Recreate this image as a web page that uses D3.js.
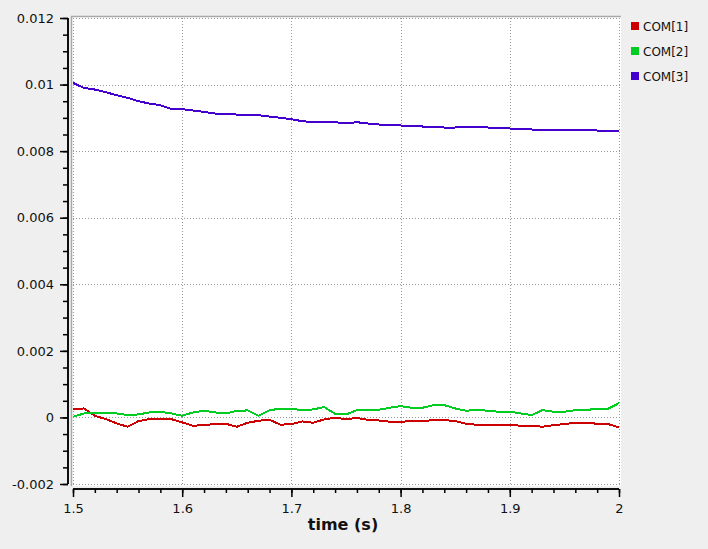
<!DOCTYPE html>
<html>
<head>
<meta charset="utf-8">
<script src="https://cdn.jsdelivr.net/npm/d3@7"></script>
<style>
  body { margin: 0; background: #efefef; }
  svg { display: block; font-family: "DejaVu Sans", sans-serif; }
</style>
</head>
<body>
<div id="chart"></div>
<script>
// sample times, one every 0.01 s
var times = d3.range(0, 51).map(function (i) { return +(1.5 + i * 0.01).toFixed(2); });

var com1 = [0.00025, 0.00027, 0.00005, -0.00005, -0.00018, -0.00028, -0.00011, -0.00005, -0.00006, -0.00005,
  -0.00015, -0.00025, -0.00023, -0.00020, -0.00019, -0.00028, -0.00016, -0.00010, -0.00007, -0.00022,
  -0.00020, -0.00012, -0.00016, -0.00006, -0.00001, -0.00005, -0.00002, -0.00007, -0.00009, -0.00013,
  -0.00013, -0.00011, -0.00011, -0.00008, -0.00008, -0.00011, -0.00019, -0.00022, -0.00022, -0.00022,
  -0.00022, -0.00025, -0.00025, -0.00028, -0.00023, -0.00020, -0.00016, -0.00016, -0.00019, -0.00020,
  -0.00030];

var com2 = [0.00002, 0.00012, 0.00014, 0.00014, 0.00012, 0.00007, 0.00009, 0.00015, 0.00017, 0.00012,
  0.00005, 0.00015, 0.00020, 0.00015, 0.00012, 0.00020, 0.00021, 0.00005, 0.00022, 0.00026,
  0.00026, 0.00022, 0.00024, 0.00031, 0.00011, 0.00009, 0.00022, 0.00023, 0.00023, 0.00029,
  0.00034, 0.00029, 0.00029, 0.00037, 0.00037, 0.00027, 0.00020, 0.00023, 0.00020, 0.00017,
  0.00017, 0.00012, 0.00007, 0.00022, 0.00017, 0.00017, 0.00022, 0.00023, 0.00025, 0.00026,
  0.00043];

var com3 = [0.01005, 0.00990, 0.00985, 0.00977, 0.00968, 0.00960, 0.00950, 0.00943, 0.00938, 0.00927,
  0.00926, 0.00922, 0.00918, 0.00913, 0.00911, 0.00910, 0.00908, 0.00908, 0.00904, 0.00900,
  0.00896, 0.00890, 0.00887, 0.00887, 0.00887, 0.00883, 0.00887, 0.00883, 0.00880, 0.00880,
  0.00877, 0.00877, 0.00874, 0.00874, 0.00871, 0.00871, 0.00874, 0.00874, 0.00871, 0.00871,
  0.00868, 0.00868, 0.00865, 0.00865, 0.00865, 0.00865, 0.00865, 0.00865, 0.00862, 0.00862,
  0.00862];

var seriesNames = ["COM[1]", "COM[2]", "COM[3]"];
var seriesColors = ["#cc0000", "#00cc22", "#4400cc"];

var xTicks = [1.5, 1.6, 1.7, 1.8, 1.9, 2];
var xTickLabels = ["1.5", "1.6", "1.7", "1.8", "1.9", "2"];
var yTicks = [-0.002, 0, 0.002, 0.004, 0.006, 0.008, 0.01, 0.012];
var yTickLabels = ["-0.002", "0", "0.002", "0.004", "0.006", "0.008", "0.01", "0.012"];

var W = 708, H = 549;

var svg = d3.select("#chart").append("svg")
    .attr("width", W)
    .attr("height", H);

var x = d3.scaleLinear().domain([1.5, 2]).range([73, 619]);
var y = d3.scaleLinear().domain([-0.002, 0.012]).range([484, 18]);

// plot panel
svg.append("rect")
    .attr("x", 71).attr("y", 16)
    .attr("width", 550).attr("height", 470)
    .attr("fill", "#fff");
svg.append("path")
    .attr("d", "M71.5,486V16.5H621")
    .attr("fill", "none")
    .attr("stroke", "#a8a8a8")
    .attr("stroke-width", 1.5);

// grid
var grid = svg.append("g").attr("stroke", "#999").attr("stroke-dasharray", "1,2").attr("shape-rendering", "crispEdges");
grid.selectAll(".gx").data(xTicks).enter().append("line")
    .attr("x1", function (d) { return x(d) + 0.5; })
    .attr("x2", function (d) { return x(d) + 0.5; })
    .attr("y1", 18).attr("y2", 485);
grid.selectAll(".gy").data(yTicks).enter().append("line")
    .attr("y1", function (d) { return y(d) + 0.5; })
    .attr("y2", function (d) { return y(d) + 0.5; })
    .attr("x1", 73).attr("x2", 620);

// axes
var xMinor = d3.range(0, 26).map(function (i) { return 1.5 + i * 0.02; });
var yMinor = d3.range(0, 29).map(function (i) { return -0.002 + i * 0.0005; });

var gx = svg.append("g").attr("transform", "translate(0,489)");
gx.call(d3.axisBottom(x).tickValues(xMinor).tickSize(4).tickFormat(""));
gx.append("g").call(d3.axisBottom(x).tickValues(xTicks).tickSize(8)
    .tickFormat(function (d, i) { return xTickLabels[i]; }));

var gy = svg.append("g").attr("transform", "translate(68,0)");
gy.call(d3.axisLeft(y).tickValues(yMinor).tickSize(5).tickFormat(""));
gy.append("g").call(d3.axisLeft(y).tickValues(yTicks).tickSize(8)
    .tickFormat(function (d, i) { return yTickLabels[i]; }));

svg.selectAll(".domain").attr("stroke", "#000").attr("stroke-width", 1.5);
svg.selectAll(".tick line").attr("stroke", "#000").attr("stroke-width", 1.5);
svg.selectAll(".tick text")
    .attr("fill", "#111")
    .attr("font-size", 13)
    .attr("font-family", "DejaVu Sans, sans-serif");
gx.selectAll(".domain").attr("d", "M73,0H619");
gy.selectAll(".domain").attr("d", "M0,18V484");
gx.selectAll(".tick text").attr("dy", "1.05em").attr("y", 10);
gy.selectAll(".tick text").attr("x", -14);

// axis title
svg.append("text")
    .attr("x", 343).attr("y", 530)
    .attr("text-anchor", "middle")
    .attr("font-size", 16)
    .attr("font-weight", "bold")
    .attr("fill", "#111")
    .text("time (s)");

// lines
var allSeries = [com1, com2, com3];
var line = d3.line()
    .x(function (d, i) { return x(times[i]); })
    .y(function (d) { return y(d); });

svg.append("g").selectAll("path")
    .data(allSeries)
    .enter().append("path")
    .attr("d", line)
    .attr("fill", "none")
    .attr("stroke", function (d, i) { return seriesColors[i]; })
    .attr("stroke-width", 2)
    .attr("shape-rendering", "crispEdges");

// legend
var legend = svg.append("g").selectAll("g")
    .data(seriesNames)
    .enter().append("g")
    .attr("transform", function (d, i) { return "translate(631," + (22 + i * 25) + ")"; });
legend.append("rect")
    .attr("width", 8).attr("height", 8)
    .attr("fill", function (d, i) { return seriesColors[i]; });
legend.append("text")
    .attr("x", 12).attr("y", 8.5)
    .attr("font-size", 12)
    .attr("fill", "#111")
    .text(function (d) { return d; });
</script>
</body>
</html>
